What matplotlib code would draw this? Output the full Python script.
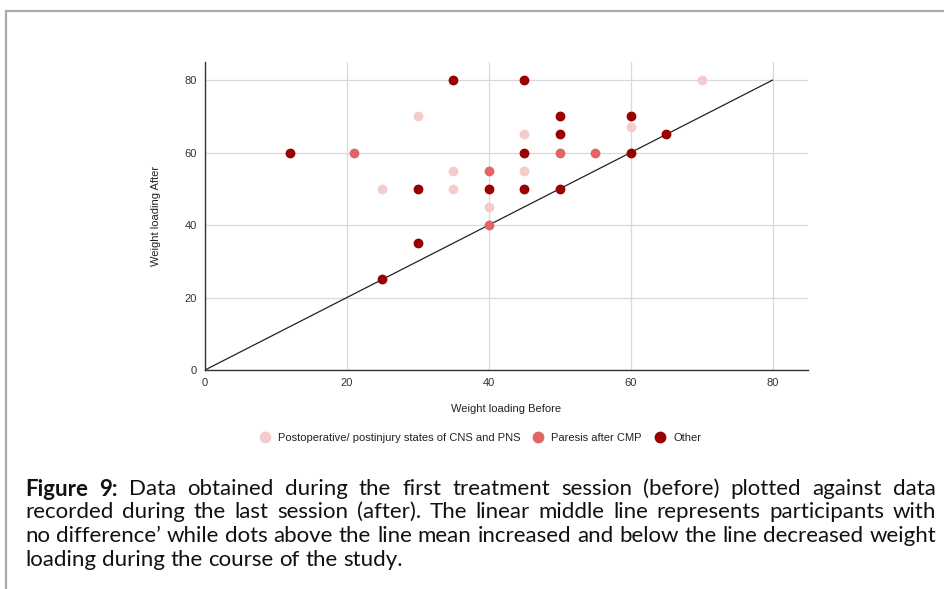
import matplotlib
matplotlib.use("Agg")
import matplotlib.pyplot as plt
from matplotlib.lines import Line2D
from matplotlib.patches import Rectangle

# ---- data ----
post_before = [25, 30, 35, 35, 40, 45, 45, 60, 70]
post_after = [50, 70, 55, 50, 45, 65, 55, 67, 80]
paresis_before = [21, 40, 40, 50, 55]
paresis_after = [60, 55, 40, 60, 60]
other_before = [12, 35, 45, 30, 30, 25, 40, 45, 45, 50, 50, 50, 60, 60, 65]
other_after = [60, 80, 80, 50, 35, 25, 50, 60, 50, 70, 65, 50, 70, 60, 65]
series_labels = ["Postoperative/ postinjury states of CNS and PNS", "Paresis after CMP", "Other"]
ticks = [0, 20, 40, 60, 80]
diag = [0, 80]

colors = ["#f4cccc", "#e06666", "#990000"]

W, H = 944, 589
fig = plt.figure(figsize=(W / 100, H / 100), dpi=100)
plt.rcParams['font.family'] = ['Liberation Sans', 'DejaVu Sans']

# frame border
fig.add_artist(Rectangle((5.5 / W, -0.01), 1.2, 1 - 10.5 / H + 0.01, transform=fig.transFigure,
                         fill=False, edgecolor="#aaaaaa", linewidth=1.6))

ax = fig.add_axes([205 / W, 1 - 370 / H, (808 - 205) / W, (370 - 62) / H])
ax.set_xlim(0, 85)
ax.set_ylim(0, 85)
ax.set_xticks(ticks)
ax.set_yticks(ticks)
ax.grid(True, color="#d9d9d9", linewidth=0.9)
ax.set_axisbelow(True)
for s in ["top", "right"]:
    ax.spines[s].set_visible(False)
for s in ["left", "bottom"]:
    ax.spines[s].set_color("#333333")
    ax.spines[s].set_linewidth(1.0)
ax.tick_params(length=0, labelsize=8, colors="#333333", pad=6)

ax.plot(diag, diag, color="#222222", linewidth=0.9, zorder=2)
ms = 50
ax.scatter(post_before, post_after, s=ms, color=colors[0], zorder=3, linewidths=0)
ax.scatter(paresis_before, paresis_after, s=ms, color=colors[1], zorder=3, linewidths=0)
ax.scatter(other_before, other_after, s=ms, color=colors[2], zorder=3, linewidths=0)

ax.set_xlabel("Weight loading Before", fontsize=8, color="#222222", labelpad=11)
ax.set_ylabel("Weight loading After", fontsize=8, color="#222222", labelpad=17)

handles = [Line2D([], [], marker='o', linestyle='none', markersize=8.5, markerfacecolor=c,
                  markeredgewidth=0) for c in colors]
fig.legend(handles, series_labels, loc="center", bbox_to_anchor=(480 / W, 1 - 438 / H),
           ncol=3, frameon=False, fontsize=8, handletextpad=0.7, columnspacing=1.1,
           handlelength=1.0, labelcolor="#222222")

# ---- caption with justified lines ----
cap_lines = [
    [("Figure 9:", "bold"), ("Data obtained during the first treatment session (before) plotted against data", "normal")],
    [("recorded during the last session (after). The linear middle line represents participants with", "normal")],
    [("no difference\u2019 while dots above the line mean increased and below the line decreased weight", "normal")],
    [("loading during the course of the study.", "normal")],
]
left_px, right_px = 25, 936
line_y = [489, 512, 536, 560]
cap_font = ['Lato', 'DejaVu Sans']

fig.canvas.draw()
renderer = fig.canvas.get_renderer()

def word_width(w, weight, fs):
    t = fig.text(0, 0, w, fontsize=fs, family=cap_font, weight=weight)
    bb = t.get_window_extent(renderer)
    t.remove()
    return bb.width

# size the caption font so the last line matches the reference width (~377 px)
fs0 = 10.0
last_w = word_width("loading during the course of the study.", "normal", fs0)
fs = fs0 * 377.0 / last_w

space_w = word_width("a a", "normal", fs) - word_width("aa", "normal", fs)

for i, segs in enumerate(cap_lines):
    words = []
    for txt, wt in segs:
        for w in txt.split(" "):
            words.append((w, wt))
    widths = [word_width(w, wt, fs) for w, wt in words]
    total = sum(widths)
    lfs = fs
    if i < len(cap_lines) - 1:
        gap = (right_px - left_px - total) / (len(words) - 1)
        if gap < space_w * 0.6:
            # shrink the line slightly to fit
            scale = (right_px - left_px - space_w * 0.6 * (len(words) - 1)) / total
            lfs = fs * scale
            widths = [w * scale for w in widths]
            gap = space_w * 0.6
    else:
        gap = space_w
    x = left_px
    for (w, wt), ww in zip(words, widths):
        fig.text(x / W, 1 - line_y[i] / H, w, fontsize=lfs, family=cap_font, weight=wt,
                 va="center", ha="left", color="#111111")
        x += ww + gap

fig.savefig("out.png", dpi=100)
